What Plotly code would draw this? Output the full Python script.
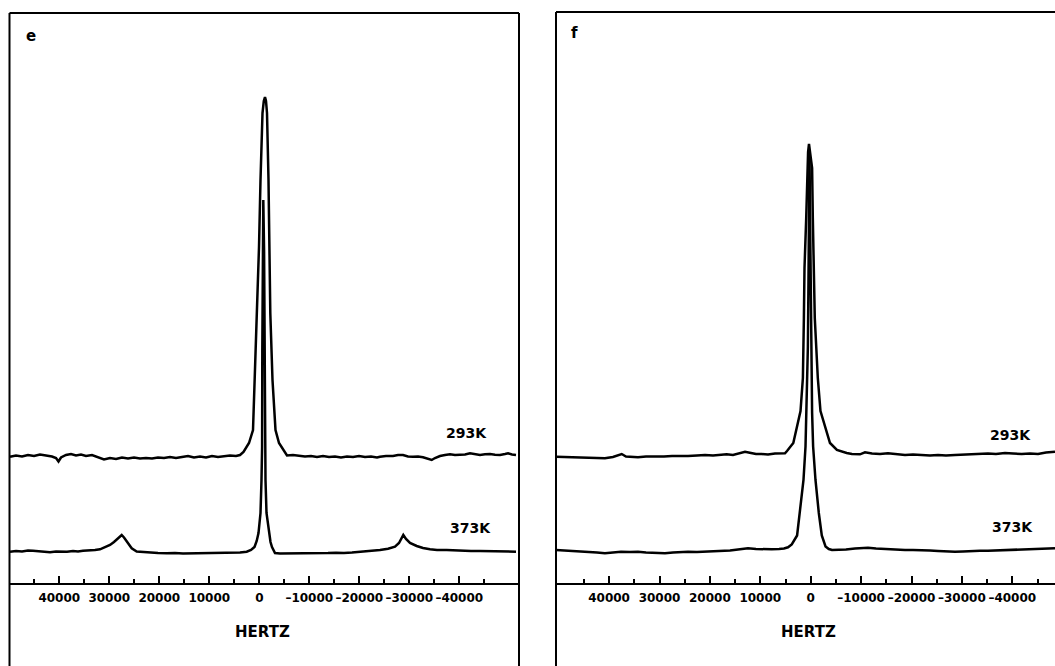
import plotly.graph_objects as go

# Spectra: (frequency in Hz, intensity above the trace's own baseline)
E_293K = [(49860, 0.3), (48660, 1.5), (47460, 0.5), (46260, 2), (45060, 1), (43860, 2.5), (42660, 1.5),
          (41460, 0.5), (40660, -1), (40160, -4.5), (39660, -0.5), (38660, 2), (37660, 3), (36660, 1.5),
          (35660, 2.5), (34660, 1), (33460, 2), (32260, -0.5), (31060, -2.5), (29860, -1), (28660, -2),
          (27460, -0.5), (26260, -1.5), (25060, -0.5), (23860, -1.5), (22660, -1), (21460, -1.5),
          (20260, -0.5), (19060, -1), (17860, 0), (16660, -1), (15460, 0), (14260, 1), (13060, -0.5),
          (11860, 0.5), (10660, -0.5), (9460, 1), (8260, 0), (7060, 1), (5860, 1.5), (4660, 1), (3860, 2),
          (3160, 5), (2060, 14), (1260, 27), (900, 77), (460, 144), (160, 177), (60, 210), (-240, 277),
          (-640, 344), (-900, 356), (-1140, 360), (-1340, 356), (-1540, 344), (-1840, 277), (-1960, 210),
          (-2040, 177), (-2200, 144), (-2640, 77), (-3240, 27), (-3940, 14), (-5040, 5), (-5540, 1.5),
          (-6740, 2), (-7940, 1), (-9140, 0.5), (-10340, 1), (-11540, 0), (-12740, 1), (-13940, 0),
          (-15140, 0.5), (-16340, -0.5), (-17540, 0.5), (-18740, 0), (-19940, 1), (-21140, 0), (-22340, 0.5),
          (-23540, -0.5), (-24140, 0.3), (-25340, 1), (-26740, 1), (-27740, 2), (-28740, 2), (-29740, 0.5),
          (-30740, 0.3), (-31740, 0.5), (-32740, -0.3), (-33740, -1.5), (-34480, -3), (-35140, -1),
          (-36140, 1), (-37140, 2), (-38140, 2.7), (-39140, 2), (-40140, 2), (-41140, 2.5), (-42140, 3.7),
          (-43140, 2.5), (-44140, 2), (-45140, 2.7), (-46140, 3), (-47140, 2.3), (-48140, 2), (-49140, 3),
          (-49740, 3.7), (-50540, 2.5), (-51340, 2)]

E_373K = [(49860, 0.3), (48660, 1), (47460, 0.5), (46260, 1.5), (45260, 1.3), (44060, 0.5), (42860, 0),
          (41860, -0.3), (40660, 0.5), (39460, 0), (38460, 0.3), (37260, 1), (36260, 0.5), (35260, 1.3),
          (34060, 1.5), (32860, 2), (31860, 2.7), (30860, 4.5), (29860, 7), (29060, 10), (28460, 12.5),
          (27960, 15), (27520, 17), (27060, 14.5), (26520, 11), (26060, 7), (25520, 3.7), (24520, 0.5),
          (23460, 0), (21860, -0.7), (20260, -1), (18520, -1.3), (16860, -1), (15260, -1.5), (13660, -1.3),
          (11860, -1.3), (10260, -1), (8660, -1.3), (6860, -1), (5260, -0.7), (3860, -0.5), (2520, 0.3),
          (1660, 2), (960, 5), (520, 11), (160, 19), (-240, 39), (-440, 72), (-560, 105), (-600, 200),
          (-680, 300), (-800, 352), (-960, 300), (-1080, 200), (-1120, 105), (-1240, 72), (-1440, 39),
          (-1900, 19), (-2240, 10), (-2540, 5), (-3140, -1), (-4140, -1.5), (-5740, -1.5), (-7340, -1.3),
          (-8940, -1.5), (-10540, -1), (-12140, -1.3), (-13740, -1), (-15340, -0.7), (-16940, -1),
          (-18540, -0.5), (-20140, 0), (-21740, 0.5), (-23140, 1), (-24140, 2), (-25740, 3.3), (-27140, 5.3),
          (-27940, 9), (-28440, 13), (-28800, 17), (-29340, 13), (-30140, 9), (-31480, 6), (-32740, 4),
          (-34140, 2.7), (-35540, 2), (-37480, 2), (-39140, 1.5), (-40740, 1.3), (-42340, 1), (-44140, 1),
          (-45740, 0.7), (-47340, 0.5), (-48940, 0.3), (-50540, 0.5), (-51340, 0.3)]

F_293K = [(50530, -0.7), (48350, -1), (46370, -1.5), (44180, -2.3), (42400, -2), (40830, -2.3), (39240, -1),
          (38030, 1), (37500, 2), (36650, -0.5), (35260, -1), (34270, -1.3), (32680, -0.5), (30890, -0.7),
          (29110, -0.5), (27520, 0), (25930, -0.3), (24340, 0), (22560, 0.5), (20970, 1), (19380, 0.5),
          (17990, 1), (16670, 1.7), (15420, 1), (14030, 2.5), (13030, 4.3), (11840, 3), (10850, 2),
          (9720, 2), (8470, 1.5), (7080, 2.5), (5890, 2.5), (5100, 2.7), (4700, 5), (3450, 13), (2020, 45),
          (1550, 78), (1350, 138), (1230, 188), (890, 238), (690, 288), (520, 304), (340, 312), (130, 304),
          (-40, 298), (-280, 288), (-420, 238), (-620, 188), (-810, 138), (-1410, 78), (-1940, 45),
          (-3830, 13), (-5200, 6), (-7140, 3), (-8180, 2), (-9780, 1.7), (-10770, 3.7), (-12160, 2.5),
          (-13750, 2), (-15330, 2.7), (-17120, 1.5), (-18710, 1), (-20300, 1.5), (-22020, 1), (-23670, 0.5),
          (-25260, 1), (-26840, 0.5), (-28630, 1), (-30210, 1.5), (-31800, 2), (-33590, 2.5), (-35170, 2.5),
          (-36760, 2), (-38550, 3), (-40140, 2.5), (-41860, 2), (-43510, 2.5), (-45100, 2), (-46680, 3.5),
          (-48470, 4.3)]

F_373K = [(50530, 0.5), (48550, 0), (46370, -0.5), (44180, -1.2), (42400, -2), (40830, -2.8), (39240, -2),
          (37640, -1.2), (35850, -1.5), (34270, -1.2), (32680, -2), (30890, -2.5), (28910, -2.8),
          (27320, -2), (25930, -1.5), (24340, -1.2), (22560, -1.5), (20970, -1.2), (19380, -0.5),
          (17790, -0.8), (16010, 0), (14420, 1), (12440, 2.2), (10850, 1.5), (9270, 1), (7740, 1.2),
          (6290, 1.5), (5300, 2), (4500, 3.2), (3760, 6), (2700, 15), (2220, 37.5), (1430, 70.5),
          (1030, 104), (830, 137.5), (560, 204), (440, 270), (340, 340), (240, 400), (140, 340), (40, 270),
          (-80, 204), (-280, 137.5), (-480, 104), (-950, 70.5), (-1610, 37.5), (-2200, 15), (-2940, 4),
          (-3600, 1.5), (-4230, 0.5), (-5420, 0.5), (-7000, 1), (-8790, 2), (-10180, 2.8), (-11370, 2.8),
          (-12960, 2), (-15330, 1.2), (-17120, 1), (-18710, 0.5), (-20300, 0.5), (-22020, 0.5), (-23670, 0),
          (-25260, -0.5), (-26840, -1), (-28630, -1.2), (-30210, -1), (-31800, -0.5), (-33590, -0.2),
          (-35170, -0.2), (-36760, 0), (-38550, 0.5), (-40140, 0.8), (-41860, 1.2), (-43510, 1),
          (-45100, 1.5), (-46680, 1.8), (-48470, 2.2)]

# Vertical stacking offsets of each temperature trace
OFFSETS_E = {"293K": 126, "373K": 31}
OFFSETS_F = {"293K": 127, "373K": 32.5}

PANEL_LETTERS = ["e", "f"]
TEMPS = ["293K", "373K"]
AXIS_TITLE = "HERTZ"

MAJOR_TICKS = [40000, 30000, 20000, 10000, 0, -10000, -20000, -30000, -40000]
MAJOR_LABELS = ["40000", "30000", "20000", "10000", "0",
                "\u201310000", "\u201320000", "\u201330000", "\u201340000"]
MINOR_TICKS = [45000, 35000, 25000, 15000, 5000, -5000, -15000, -25000, -35000, -45000]

RANGE_E = [50060, -51740]
RANGE_F = [50535, -48472]
Y_RANGE = [0, 570]

W, H = 1055, 666
BOLD = dict(family="DejaVu Sans", color="black", weight="bold")


def px_x(p):
    return p / W


def px_y(p):
    return 1 - p / H


fig = go.Figure()

panels = [
    ("x", "y", {"293K": E_293K, "373K": E_373K}, OFFSETS_E),
    ("x2", "y2", {"293K": F_293K, "373K": F_373K}, OFFSETS_F),
]
for xa, ya, spectra, offsets in panels:
    for t in TEMPS:
        hz = [p[0] for p in spectra[t]]
        inten = [p[1] + offsets[t] for p in spectra[t]]
        fig.add_trace(go.Scatter(x=hz, y=inten, mode="lines", xaxis=xa, yaxis=ya,
                                 line=dict(color="black", width=2.5), showlegend=False,
                                 hoverinfo="skip"))

plot_top, plot_bottom = 13, 583
ydom = [px_y(plot_bottom), px_y(plot_top)]
dom_e = [px_x(9), px_x(518)]
dom_f = [px_x(556), 1.0]

# frequency axis: long upward ticks at labelled values, short ones in between
x_axis = dict(
    showline=True, linecolor="black", linewidth=1.6,
    ticks="inside", ticklen=7, tickwidth=2, tickcolor="black",
    tickmode="array", tickvals=MAJOR_TICKS, ticktext=MAJOR_LABELS,
    minor=dict(tickmode="array", tickvals=MINOR_TICKS, ticks="inside",
               ticklen=4, tickwidth=1.6, tickcolor="black", showgrid=False),
    tickangle=0, tickfont=dict(size=12, **BOLD), ticklabelstandoff=3,
    showgrid=False, zeroline=False, fixedrange=True,
)
y_axis = dict(range=Y_RANGE, showticklabels=False, showline=False, ticks="",
              showgrid=False, zeroline=False, fixedrange=True)

fig.update_layout(
    width=W, height=H,
    margin=dict(l=0, r=0, t=0, b=0),
    paper_bgcolor="white", plot_bgcolor="white",
    xaxis=dict(domain=dom_e, range=RANGE_E, anchor="y", **x_axis),
    xaxis2=dict(domain=dom_f, range=RANGE_F, anchor="y2", **x_axis),
    yaxis=dict(domain=ydom, anchor="x", **y_axis),
    yaxis2=dict(domain=ydom, anchor="x2", **y_axis),
)

# Panel frames (left, top, right edges; they run on past the axis)
frame = dict(color="black", width=2)
shapes = [
    dict(type="line", xref="paper", yref="paper", x0=px_x(9.5), x1=px_x(9.5), y0=px_y(13), y1=px_y(666), line=frame),
    dict(type="line", xref="paper", yref="paper", x0=px_x(9.5), x1=px_x(519), y0=px_y(13), y1=px_y(13), line=frame),
    dict(type="line", xref="paper", yref="paper", x0=px_x(519), x1=px_x(519), y0=px_y(13), y1=px_y(666), line=frame),
    dict(type="line", xref="paper", yref="paper", x0=px_x(556), x1=px_x(556), y0=px_y(12), y1=px_y(666), line=frame),
    dict(type="line", xref="paper", yref="paper", x0=px_x(556), x1=1.0, y0=px_y(12), y1=px_y(12), line=frame),
]
fig.update_layout(shapes=shapes)

annotations = []
# panel letters
for letter, (lx, ly) in zip(PANEL_LETTERS, [(31, 36), (574, 33)]):
    annotations.append(dict(text=letter, x=px_x(lx), y=px_y(ly), xref="paper", yref="paper",
                            showarrow=False, font=dict(size=15, **BOLD), xanchor="center", yanchor="middle"))
# temperature labels
label_pos = [((466, 433), (470, 528)), ((1010, 435), (1012, 527))]
for pos in label_pos:
    for t, (lx, ly) in zip(TEMPS, pos):
        annotations.append(dict(text=t, x=px_x(lx), y=px_y(ly), xref="paper", yref="paper",
                                showarrow=False, font=dict(size=14, **BOLD), xanchor="center", yanchor="middle"))
# frequency axis titles
for lx in (262, 808):
    annotations.append(dict(text=AXIS_TITLE, x=px_x(lx), y=px_y(632), xref="paper", yref="paper",
                            showarrow=False, font=dict(size=15, **BOLD), xanchor="center", yanchor="middle"))
fig.update_layout(annotations=annotations)

fig.write_html("out.html")
